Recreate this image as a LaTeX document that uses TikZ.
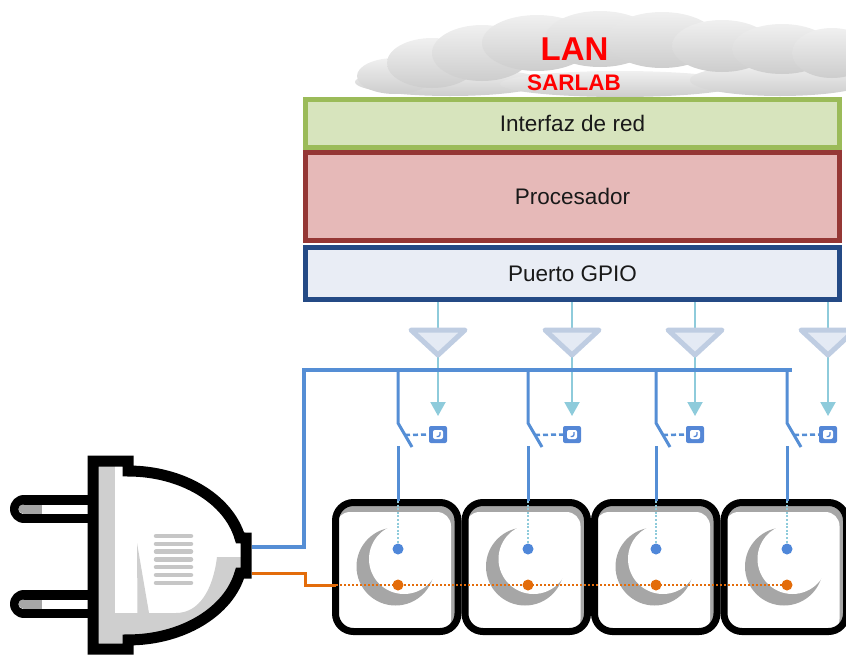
\documentclass[tikz,border=0pt]{standalone}
\usepackage{fontspec}
\setmainfont{Liberation Sans}
\usetikzlibrary{arrows.meta}

\definecolor{ifgreen}{HTML}{D7E4BD}
\definecolor{ifgreenB}{HTML}{9BBB59}
\definecolor{procred}{HTML}{E6B9B8}
\definecolor{procredB}{HTML}{953735}
\definecolor{gpiofill}{HTML}{E9EDF5}
\definecolor{gpioB}{HTML}{244A85}
\definecolor{busblue}{HTML}{558ED5}
\definecolor{sigcyan}{HTML}{8ECBDB}
\definecolor{trifill}{HTML}{E4EAF4}
\definecolor{triB}{HTML}{BFCDE2}
\definecolor{relayblue}{HTML}{5587D6}
\definecolor{dotblue}{HTML}{4F87D9}
\definecolor{wireorange}{HTML}{E36C0A}
\definecolor{outletgray}{HTML}{A6A6A6}
\definecolor{pluggray}{HTML}{CFCFCF}
\definecolor{ventgray}{HTML}{C6C6C6}
\definecolor{cloudtop}{HTML}{F0F0F0}
\definecolor{cloudbot}{HTML}{CDCDCD}

% outline of the plug body (stroke centre line)
\def\plugbody{(93,461) -- (128,461) -- (128,471)
  arc[start angle=-90, end angle=-12, x radius=114.5, y radius=84.5]
  -- (246,538) -- (246,573) -- (240,573)
  arc[start angle=12, end angle=90, x radius=114.5, y radius=84.5]
  -- (128,649) -- (93,649) -- cycle}

\begin{document}
\begin{tikzpicture}[x=1pt,y=-1pt,
  layer/.style={rectangle, line width=5pt, minimum width=534pt, inner sep=0pt,
    text=black!90, font=\fontsize{22.5}{27}\selectfont},
  bus/.style={draw=busblue, line width=4pt},
  feed/.style={draw=busblue, line width=3pt},
  sig/.style={draw=sigcyan, line width=2pt},
  sigdot/.style={draw=sigcyan, line width=1.6pt, dash pattern=on 2pt off 1.6pt},
  oranwire/.style={draw=wireorange, line width=3pt},
  orandot/.style={draw=wireorange, line width=1.8pt, dash pattern=on 2pt off 2pt},
  tri/.style={fill=trifill, draw=triB, line width=5pt, line join=round},
  relay/.style={rectangle, fill=relayblue, rounded corners=2pt,
    minimum width=18pt, minimum height=17pt, inner sep=0pt,
    path picture={
      \fill[white] ([xshift=-5pt,yshift=-4.5pt]path picture bounding box.center)
        rectangle ([xshift=5pt,yshift=4.5pt]path picture bounding box.center);
      \draw[relayblue, line width=1.3pt]
        ([xshift=2pt,yshift=2.5pt]path picture bounding box.center)
        -- ([xshift=2pt,yshift=-2pt]path picture bounding box.center)
        -- ([xshift=-1.5pt,yshift=-2pt]path picture bounding box.center);
    }},
  pin/.style={circle, inner sep=0pt, minimum size=11pt},
  lobe/.style={top color=cloudtop, bottom color=cloudbot},
]
\useasboundingbox (0,0) rectangle (846,654);

% ---------- cloud ----------
\foreach \cx/\cy/\rx/\ry in {450/82/95/14, 620/84/120/13, 780/80/90/16,
    395/76/38/18, 432/63/45/25, 482/53/50/28, 537/43/55/28, 600/39/55/28,
    662/40/55/28, 722/46/50/26, 782/49/50/25, 832/53/40/25}
  \shade[lobe] (\cx,\cy) ellipse[x radius=\rx, y radius=\ry];
\node[font=\bfseries\fontsize{33}{36}\selectfont, text=red, anchor=base, inner sep=0pt]
  (lan) at (574.5,60) {LAN};
\node[font=\bfseries\fontsize{22.5}{26}\selectfont, text=red, anchor=base, inner sep=0pt]
  (sarlab) at (574,90) {SARLAB};

% ---------- controller layers ----------
\node[layer, draw=ifgreenB, fill=ifgreen, minimum height=48pt] (iface) at (572.5,123.5) {Interfaz de red};
\node[layer, draw=procredB, fill=procred, minimum height=88pt] (cpu) at (572.5,196.5) {Procesador};
\node[layer, draw=gpioB, fill=gpiofill, minimum height=52pt] (gpio) at (572.5,273.5) {Puerto GPIO};

% ---------- outlets ----------
\foreach \i/\xo in {1/332, 2/461.5, 3/591, 4/720.5} {
  \begin{scope}
    \clip[rounded corners=18pt] (\xo+3.5,502.5) rectangle (\xo+126,631.5);
    \fill[outletgray] (\xo,499) rectangle (\xo+130,635);
    \fill[white, rounded corners=14pt] (\xo+4,512) rectangle (\xo+119,633);
    \fill[outletgray] (\xo+63.5,566.5) circle[radius=39];
    \fill[white] (\xo+72,559) circle[radius=35];
  \end{scope}
  \draw[black, line width=7pt, rounded corners=18pt] (\xo+3.5,502.5) rectangle (\xo+126,631.5);
}

% ---------- plug ----------
\foreach \py in {509, 604} {
  \draw[black, line width=28pt, line cap=round] (24,\py) -- (95,\py);
  \draw[white, line width=9pt, line cap=round] (23,\py) -- (95,\py);
  \fill[outletgray] (23,\py) circle[radius=4.5];
  \draw[outletgray, line width=9pt] (23,\py) -- (42,\py);
}
\begin{scope}
  \clip \plugbody;
  \fill[white] (80,450) rectangle (260,660);
  \fill[pluggray] (80,450) rectangle (115,660);
  \fill[pluggray] (260,557) -- (217,557)
    .. controls (213,590) and (199,613) .. (176,613)
    -- (149,613) -- (137,543) -- (137.5,613) -- (100,613)
    -- (100,660) -- (260,660) -- cycle;
  \foreach \k in {0,...,6}
    \draw[ventgray, line width=4.5pt, line cap=round] (156,536+7.8*\k) -- (191,536+7.8*\k);
\end{scope}
\draw[black, line width=11pt] \plugbody;

% ---------- wiring ----------
\coordinate (plugL) at (252,547);
\coordinate (plugN) at (252,573);
\coordinate (busA) at (304,547);
\coordinate (busB) at (304,370);
\coordinate (busE) at (792,370);
\coordinate (orA) at (305,573);
\coordinate (orB) at (305,585);
\coordinate (orC) at (336,585);
\coordinate (orE) at (786,585);

% GPIO outputs, drivers and relay coils
\foreach \i/\cx in {1/438, 2/572, 3/695, 4/828} {
  \coordinate (tt\i) at (\cx,330);
  \coordinate (tb\i) at (\cx,355);
  \coordinate (ar\i) at (\cx,416);
  \draw[sig] (gpio.south -| tt\i) -- (tt\i);
  \draw[sig, -{Triangle[width=15pt,length=14pt]}] (tb\i) -- (ar\i);
  \filldraw[tri] (\cx-27,330) -- (\cx+27,330) -- (tb\i) -- cycle;
  \node[relay] (rel\i) at (\cx,434.5) {};
}

% live conductor: plug -> bus
\draw[bus, line join=miter] (plugL) -- (busA) -- (busB) -- (busE);

% neutral conductor
\draw[oranwire] (plugN) -- (orA) -- (orB) -- (orC);
\draw[orandot] (orC) -- (orE);

% switches and outlet contacts
\foreach \i/\xv in {1/398, 2/528, 3/656, 4/787} {
  \coordinate (sa\i) at (\xv,370);
  \coordinate (sb\i) at (\xv,423);
  \coordinate (sc\i) at (\xv+14,447);
  \coordinate (sm\i) at (\xv+7,435);
  \coordinate (sd\i) at (\xv,446);
  \coordinate (se\i) at (\xv,501);
  \draw[feed] (sa\i) -- (sb\i) -- (sc\i);
  \draw[feed, line width=2.5pt, dash pattern=on 5pt off 3pt] (sm\i) -- (rel\i.west);
  \draw[feed] (sd\i) -- (se\i);
  \node[pin, fill=dotblue] (ph\i) at (\xv,549) {};
  \node[pin, fill=wireorange] (nu\i) at (\xv,585) {};
  \draw[sigdot] (se\i) -- (ph\i.north);
}
\end{tikzpicture}
\end{document}
